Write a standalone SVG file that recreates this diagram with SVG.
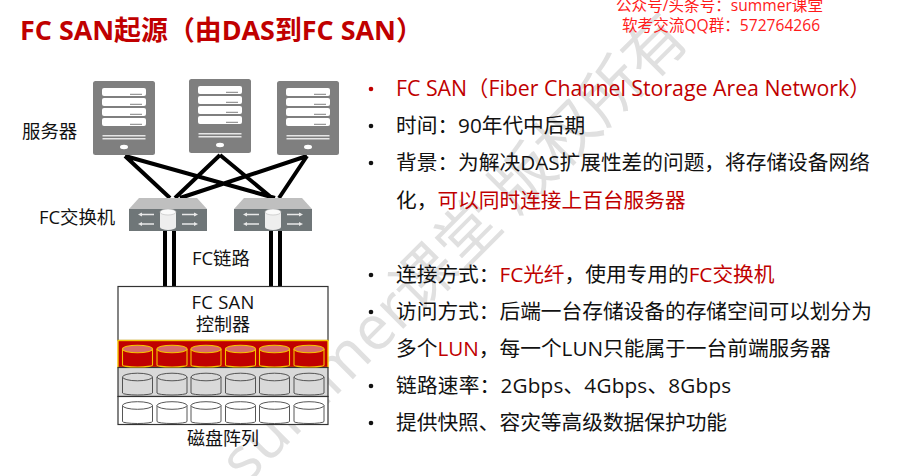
<svg xmlns="http://www.w3.org/2000/svg" width="913" height="476" viewBox="0 0 913 476">
<style>
text{font-family:"Open Sans","Noto Sans CJK SC",sans-serif;fill:#111}
.b{font-size:20.700px}
.l{font-size:18.400px}
.r{fill:#c00000}
.c{font-size:15.600px;fill:#ff1a1a}
.link{stroke:#000;stroke-width:4;fill:none}
.wm{font-size:62px;fill:#e0e0e0}
.sb{fill:#fff}
.sl{stroke:#999;stroke-width:1.200}
.dr{stroke:#f5c400;stroke-width:1.100;fill:#c00000}
.drt{stroke:#f5c400;stroke-width:1.100;fill:#d86a6a}
.dg{stroke:#444;stroke-width:.9;fill:#d9d9d9}
.dw{stroke:#444;stroke-width:.9;fill:#fff}
</style>
<defs>
<g id="server">
<rect width="62" height="74" rx="2.500" fill="#7f7f7f"/>
<rect x="9" y="7" width="44" height="8" rx="2" class="sb"/><rect x="9" y="17" width="44" height="8" rx="2" class="sb"/><rect x="9" y="27" width="44" height="8" rx="2" class="sb"/><rect x="9" y="37" width="44" height="8" rx="2" class="sb"/>
<path class="sl" d="M37 13.300h12M37 23.300h12M37 33.300h12M37 43.300h12"/>
<rect x="9.500" y="54" width="43" height="1.500" fill="#e6e6e6"/><rect x="9.500" y="57" width="43" height="1.500" fill="#e6e6e6"/>
<ellipse cx="31" cy="66" rx="4" ry="2.200" fill="#fff"/>
</g>
<g id="switch">
<path d="M0 11L10 0H68L78 11Z" fill="#bfbfbf"/>
<rect y="11" width="78" height="22" fill="#6f7678"/>
<path d="M11 16.500H25M11 26H25M53 16.500H67M53 26H67" stroke="#e8e8e8" stroke-width="1.400"/>
<path d="M9 16.500l4-2v4zM9 26l4-2v4zM69 16.500l-4-2v4zM69 26l-4-2v4z" fill="#e8e8e8"/>
<path d="M31 14v15a8 3 0 0 0 16 0V14z" fill="#eeeeee"/>
<ellipse cx="39" cy="14" rx="8" ry="3" fill="#fafafa" stroke="#bbb" stroke-width=".6"/>
</g>
<g id="diskR"><path class="dr" d="M0 4V20a15 2 0 0 0 30 0V4"/><ellipse class="drt" cx="15" cy="4" rx="15" ry="3.800"/></g>
<g id="diskG"><path class="dg" d="M0 4V20a15 2 0 0 0 30 0V4"/><ellipse class="dg" cx="15" cy="4" rx="15" ry="3.800"/></g>
<g id="diskW"><path class="dw" d="M0 4V20a15 2 0 0 0 30 0V4"/><ellipse class="dw" cx="15" cy="4" rx="15" ry="3.800"/></g>
</defs>
<rect width="913" height="476" fill="#fff"/>
<g id="watermark"><text class="wm" transform="translate(246 486) rotate(-45)">summer课堂 版权所有</text></g>
<g id="title"><text x="20" y="40" style="font-size:26.900px;font-weight:700;fill:#c00000">FC SAN起源（由DAS到FC SAN）</text></g>
<g id="credit">
<text class="c" x="616" y="11">公众号/头条号：summer课堂</text>
<text class="c" x="622" y="31">软考交流QQ群：572764266</text>
</g>
<g id="connectors">
<path class="link" d="M125 156L170 198M125 156L275 198M220 155L175 198M220 155L272 198M307 156L180 198M307 156L279 198"/>
<path class="link" d="M165 231V286M174 231V286M271 231V286M280 231V286"/>
</g>
<g id="server1"><use href="#server" x="93" y="81"/></g>
<g id="server2"><use href="#server" x="189" y="79"/></g>
<g id="server3"><use href="#server" x="277" y="81"/></g>
<g id="switch1"><use href="#switch" x="129" y="198"/></g>
<g id="switch2"><use href="#switch" x="234" y="198"/></g>
<g id="array">
<rect x="118" y="286.500" width="210" height="54" fill="#fff" stroke="#333" stroke-width="1.200"/>
<rect x="118" y="340.500" width="210" height="27" fill="#c00000" stroke="#f5c400" stroke-width="1.400"/>
<rect x="118" y="367.500" width="210" height="29" fill="#d9d9d9" stroke="#333" stroke-width="1.200"/>
<rect x="118" y="396.500" width="210" height="28" fill="#fff" stroke="#333" stroke-width="1.200"/>
<use href="#diskR" x="122.500" y="345"/><use href="#diskR" x="157" y="345"/><use href="#diskR" x="191" y="345"/><use href="#diskR" x="225.500" y="345"/><use href="#diskR" x="259.500" y="345"/><use href="#diskR" x="294" y="345"/>
<use href="#diskG" x="122.500" y="373"/><use href="#diskG" x="157" y="373"/><use href="#diskG" x="191" y="373"/><use href="#diskG" x="225.500" y="373"/><use href="#diskG" x="259.500" y="373"/><use href="#diskG" x="294" y="373"/>
<use href="#diskW" x="122.500" y="401.500"/><use href="#diskW" x="157" y="401.500"/><use href="#diskW" x="191" y="401.500"/><use href="#diskW" x="225.500" y="401.500"/><use href="#diskW" x="259.500" y="401.500"/><use href="#diskW" x="294" y="401.500"/>
</g>
<g id="labels">
<text class="l" x="22" y="138">服务器</text>
<text class="l" x="39" y="224">FC交换机</text>
<text class="l" x="192" y="265">FC链路</text>
<text class="l" x="223" y="309" text-anchor="middle" letter-spacing=".3">FC SAN</text>
<text x="223" y="331" text-anchor="middle" style="font-size:18px">控制器</text>
<text x="223" y="445" text-anchor="middle" style="font-size:18px">磁盘阵列</text>
</g>
<g id="bullets">
<circle cx="371" cy="89" r="2.300" fill="#c00000"/><circle cx="371" cy="126" r="2.300" fill="#111"/><circle cx="371" cy="163" r="2.300" fill="#111"/><circle cx="371" cy="275" r="2.300" fill="#111"/><circle cx="371" cy="312" r="2.300" fill="#111"/><circle cx="371" cy="386" r="2.300" fill="#111"/><circle cx="371" cy="423" r="2.300" fill="#111"/>
<text class="b r" x="396" y="96" style="font-size:21.300px">FC SAN（Fiber Channel Storage Area Network）</text>
<text class="b" x="396" y="133">时间：90年代中后期</text>
<text class="b" x="396" y="170">背景：为解决DAS扩展性差的问题，将存储设备网络</text>
<text class="b" x="396" y="208">化，<tspan class="r">可以同时连接上百台服务器</tspan></text>
<text class="b" x="396" y="282">连接方式：<tspan class="r">FC光纤</tspan>，使用专用的<tspan class="r">FC交换机</tspan></text>
<text class="b" x="396" y="319">访问方式：后端一台存储设备的存储空间可以划分为</text>
<text class="b" x="396" y="356">多个<tspan class="r">LUN</tspan>，每一个LUN只能属于一台前端服务器</text>
<text class="b" x="396" y="393" letter-spacing=".2">链路速率：2Gbps、4Gbps、8Gbps</text>
<text class="b" x="396" y="430">提供快照、容灾等高级数据保护功能</text>
</g>
</svg>
